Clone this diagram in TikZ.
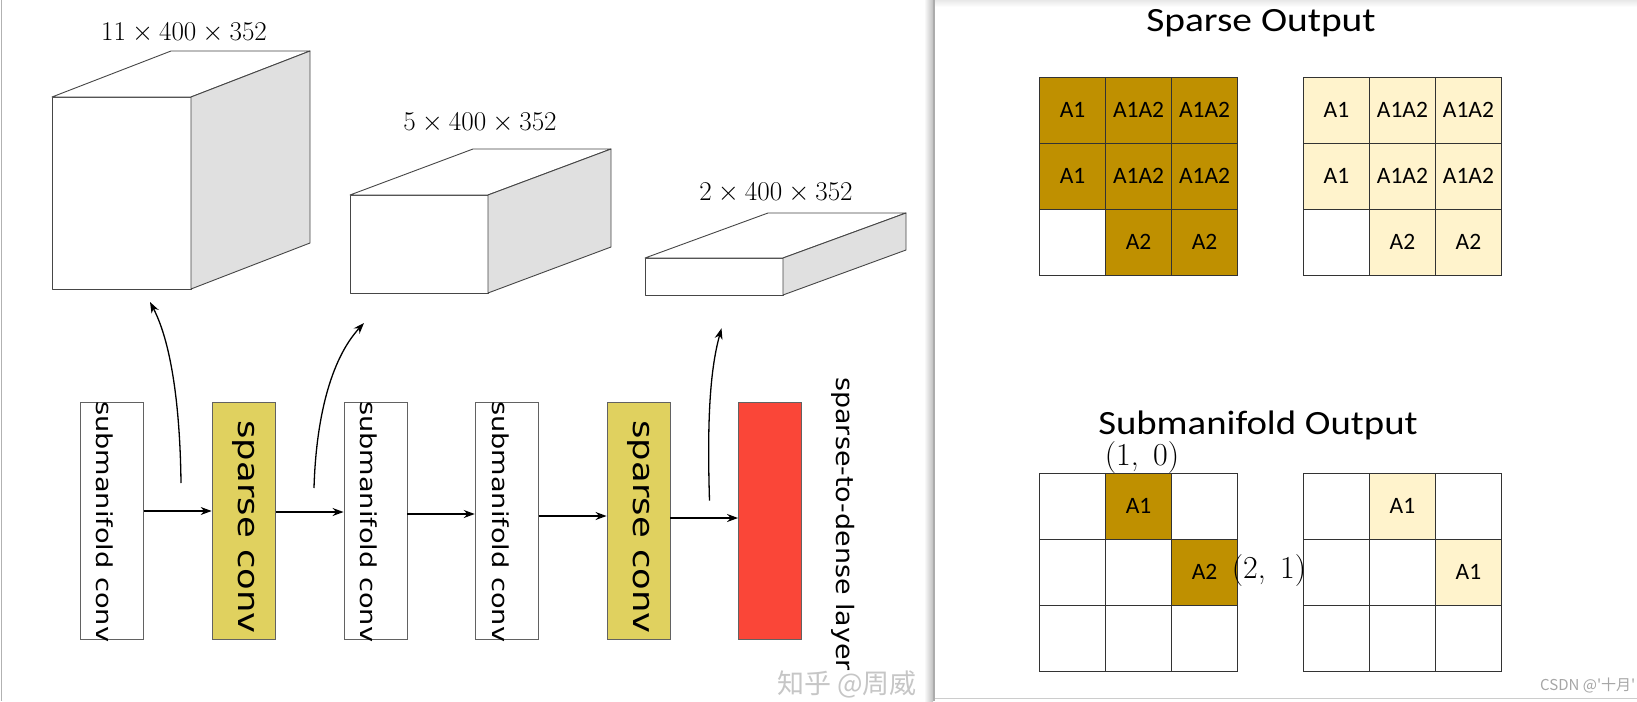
\documentclass[tikz,border=0pt]{standalone}
\usepackage{fontspec}
\newfontfamily\dejavu{DejaVu Sans}
\newfontfamily\carlito{Carlito}
\newfontfamily\cjk{Noto Sans CJK SC}
\usetikzlibrary{arrows.meta,calc}
\definecolor{gold}{RGB}{191,144,0}
\definecolor{cream}{RGB}{255,243,204}
\definecolor{ybox}{RGB}{224,209,95}
\definecolor{rbox}{RGB}{250,70,56}
\definecolor{edge}{RGB}{70,70,70}
\definecolor{sideg}{RGB}{224,224,224}
\begin{document}
\begin{tikzpicture}[x=1pt,y=-1pt,
  face/.style={fill=white,draw=edge,line width=0.9pt,line join=round},
  side/.style={fill=sideg,draw=edge,line width=0.9pt,line join=round},
  layerbox/.style={draw=edge!85,line width=0.9pt,minimum width=63pt,minimum height=237pt,inner sep=0pt},
  arr/.style={-{Stealth[length=11pt,width=8pt]},line width=1.3pt},
  dimlab/.style={font=\fontsize{24.88}{26}\selectfont,inner sep=0pt},
  subtxt/.style={rotate=-90,inner sep=0pt,anchor=west,font=\dejavu\fontsize{22}{22}\selectfont},
  sptxt/.style={rotate=-90,inner sep=0pt,font=\dejavu\fontsize{29}{29}\selectfont},
  cell/.style={draw=black!80,line width=1.3pt,minimum size=66pt,inner sep=0pt,font=\carlito\fontsize{23.5}{24}\selectfont},
  title/.style={anchor=base,inner sep=0pt},
  coordlab/.style={anchor=base,inner sep=0pt,font=\fontsize{32}{32}\selectfont}
]
\useasboundingbox (0,0) rectangle (1637,701);
\fill[white] (0,0) rectangle (1637,701);

% panel borders
\draw[gray!60,line width=1pt] (1,0) -- (1,701);
\shade[left color=white,right color=gray!50] (924,0) rectangle (933,701);
\fill[gray!65] (932.5,0) rectangle (934.5,701);
\shade[top color=gray!18,bottom color=white] (935,0) rectangle (1637,7);
\draw[gray!40,line width=1pt] (935,698.5) -- (1637,698.5);

% cubes
\filldraw[face] (52,97) rectangle (191,289);
\filldraw[face] (52,97) -- ++(119,-46) -- ++(139,0) -- (191,97) -- cycle;
\filldraw[side] (191,97) -- ++(119,-46) -- ++(0,192) -- (191,289) -- cycle;

\filldraw[face] (350,195) rectangle (488,293);
\filldraw[face] (350,195) -- ++(123,-46) -- ++(138,0) -- (488,195) -- cycle;
\filldraw[side] (488,195) -- ++(123,-46) -- ++(0,98) -- (488,293) -- cycle;

\filldraw[face] (645,258) rectangle (783,295);
\filldraw[face] (645,258) -- ++(123,-45) -- ++(138,0) -- (783,258) -- cycle;
\filldraw[side] (783,258) -- ++(123,-45) -- ++(0,37) -- (783,295) -- cycle;

\node[dimlab] (d1) at (184,33) {\scalebox{1.09}{$11\times400\times352$}};
\node[dimlab] (d2) at (480,123) {\scalebox{1.09}{$5\times400\times352$}};
\node[dimlab] (d3) at (776,193) {\scalebox{1.09}{$2\times400\times352$}};

% layer boxes
\node[layerbox,fill=white] (b1) at (111.65,520.5) {};
\node[layerbox,fill=ybox] (b2) at (243.6,520.5) {};
\node[layerbox,fill=white] (b3) at (375.5,520.5) {};
\node[layerbox,fill=white] (b4) at (506.7,520.5) {};
\node[layerbox,fill=ybox] (b5) at (638.5,520.5) {};
\node[layerbox,fill=rbox] (b6) at (770,520.5) {};

\node[subtxt] (t1) at (105,401) {\scalebox{1.235}[1]{submanifold conv}};
\node[sptxt] (t2) at (243.6,527) {\scalebox{1.22}[1]{sparse conv}};
\node[subtxt] (t3) at (369,401) {\scalebox{1.235}[1]{submanifold conv}};
\node[subtxt] (t4) at (500.5,401) {\scalebox{1.235}[1]{submanifold conv}};
\node[sptxt] (t5) at (638.5,527) {\scalebox{1.22}[1]{sparse conv}};
\node[rotate=-90,inner sep=0pt,font=\dejavu\fontsize{24}{24}\selectfont] (t6) at (843,524) {\scalebox{1.12}[1]{sparse-to-dense layer}};

% horizontal arrows
\draw[arr] ([yshift=9.5pt]b1.east) -- ([yshift=9.5pt]b2.west);
\draw[arr] ([yshift=8.5pt]b2.east) -- ([yshift=8.5pt]b3.west);
\draw[arr] ([yshift=6.5pt]b3.east) -- ([yshift=6.5pt]b4.west);
\draw[arr] ([yshift=4.5pt]b4.east) -- ([yshift=4.5pt]b5.west);
\draw[arr] ([yshift=2.5pt]b5.east) -- ([yshift=2.5pt]b6.west);

% curved arrows
\coordinate (a1s) at (181,483);
\coordinate (a1e) at (150,302);
\coordinate (a2s) at (314,488);
\coordinate (a2e) at (364,323);
\coordinate (a3s) at (709.5,500.7);
\coordinate (a3e) at (721.5,328.3);
\draw[arr] (a1s) .. controls (180,400) and (170,340) .. (a1e);
\draw[arr] (a2s) .. controls (316,420) and (330,360) .. (a2e);
\draw[arr] (a3s) .. controls (707,420) and (710,370) .. (a3e);

% watermark left
\node[inner sep=0pt,font=\cjk\fontsize{27}{27}\selectfont,text=gray!45] (wm1) at (847,684) {知乎 @周威};

% right panel titles
\node[title,font=\carlito\fontsize{34}{34}\selectfont] (ts) at (1261,32) {\scalebox{1.16}[1]{Sparse Output}};
\node[title,font=\carlito\fontsize{34}{34}\selectfont,text depth=0pt] (tm) at (1258,434) {\scalebox{1.14}[1]{Submanifold Output}};

% sparse grids
\foreach \c/\r/\f/\t in {0/0/gold/A1,1/0/gold/A1A2,2/0/gold/A1A2,0/1/gold/A1,1/1/gold/A1A2,2/1/gold/A1A2,0/2/white/{},1/2/gold/A2,2/2/gold/A2}
  \node[cell,fill=\f] (sd\c\r) at ({1072.6+66*\c},{110.3+66*\r}) {\raisebox{-4pt}{\t}};
\foreach \c/\r/\f/\t in {0/0/cream/A1,1/0/cream/A1A2,2/0/cream/A1A2,0/1/cream/A1,1/1/cream/A1A2,2/1/cream/A1A2,0/2/white/{},1/2/cream/A2,2/2/cream/A2}
  \node[cell,fill=\f] (sl\c\r) at ({1336.4+66*\c},{110.3+66*\r}) {\raisebox{-4pt}{\t}};

% submanifold grids
\foreach \c/\r/\f/\t in {0/0/white/{},1/0/gold/A1,2/0/white/{},0/1/white/{},1/1/white/{},2/1/gold/A2,0/2/white/{},1/2/white/{},2/2/white/{}}
  \node[cell,fill=\f] (md\c\r) at ({1072.6+66*\c},{506.3+66*\r}) {\raisebox{-3pt}{\t}};
\foreach \c/\r/\f/\t in {0/0/white/{},1/0/cream/A1,2/0/white/{},0/1/white/{},1/1/white/{},2/1/cream/A1,0/2/white/{},1/2/white/{},2/2/white/{}}
  \node[cell,fill=\f] (ml\c\r) at ({1336.4+66*\c},{506.3+66*\r}) {\raisebox{-3pt}{\t}};

\node[coordlab] (p10) at (1142,465) {(1,\hspace{0.45em}0)};
\node[coordlab] (p21) at (1269,578) {(2,\hspace{0.45em}1)};

% watermark right
\node[anchor=base west,inner sep=0pt,font=\cjk\fontsize{15}{15}\selectfont,text=gray!70] (wm2) at (1540,690) {CSDN @\textquotesingle 十月\textquotesingle};
\end{tikzpicture}
\end{document}
